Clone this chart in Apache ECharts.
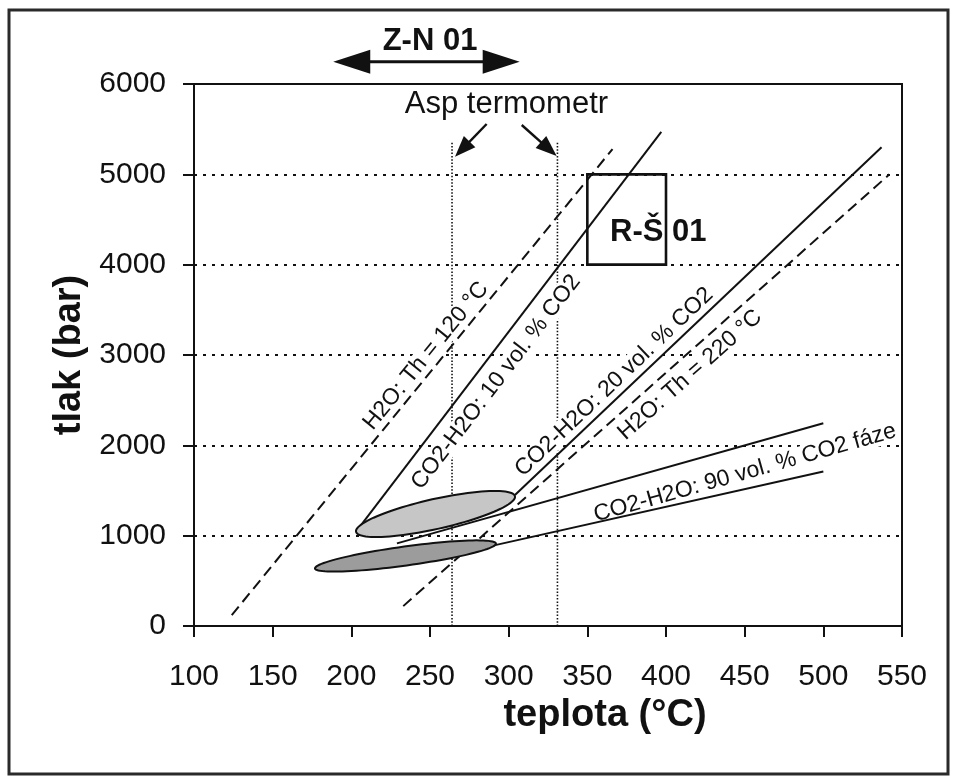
<!DOCTYPE html>
<html><head><meta charset="utf-8">
<script src="https://cdn.jsdelivr.net/npm/echarts@6/dist/echarts.min.js"></script>
<style>html,body{margin:0;padding:0;background:#fff}#c{width:957px;height:782px}</style>
</head><body><div id="c"></div>
<script>
// ---- axis ranges / ticks ----
const tempTicks = [100,150,200,250,300,350,400,450,500,550];
const pressTicks = [0,1000,2000,3000,4000,5000,6000];

// ---- isochores (T °C, P bar) ----
const h2oTh120 = [[124,120],[366,5280]];
const co2h2o10 = [[203,1044],[397,5470]];
const co2h2o20 = [[304,1450],[537,5300]];
const h2oTh220 = [[233,220],[542,5000]];
const co2h2o90upper = [[229,915],[500,2245]];
const co2h2o90lower = [[290,890],[500,1710]];

// ---- Asp thermometer temperatures ----
const aspTemps = [264, 331];
const aspTopP = 5350;

// ---- fluid inclusion fields: major-axis ends (T, P) ----
const fieldUpperAxis = [[203,1043],[304,1437]];
const fieldLowerAxis = [[176.9,637],[291.9,913]];

// ---- R-Š 01 box and Z-N 01 range ----
const rs01Box = [[350,4000],[400,5000]];
const zn01Range = [188.5, 307];
const zn01P = 6247;

// ---- annotation arrows for Asp termometr ----
const aspArrows = [[[286,5557],[265.9,5195]], [[308.3,5546],[330.5,5203]]];

// ---- text labels ----
const lineLabelText = ['H2O: Th = 120 °C','CO2-H2O: 10 vol. % CO2','CO2-H2O: 20 vol. % CO2','H2O: Th = 220 °C','CO2-H2O: 90 vol. % CO2 fáze'];
const lineLabelPos = [[247.4,2990],[292,2701],[367,2701],[415.3,2779],[450.2,1694]];
const lineLabelRef = [h2oTh120, co2h2o10, co2h2o20, h2oTh220, co2h2o90upper];
const freeLabelText = ['Asp termometr','Z-N 01','R-Š 01'];
const freeLabelPos = [[298.6,5779],[250,6470],[364.4,4362]];
const freeLabelWeight = ['normal','bold','bold'];
const freeLabelAlign = ['center','center','left'];

const FONT = '"Liberation Sans", Arial, sans-serif';
const INK = '#111';

function lineSeries(data, dashed){
  return {type:'line', data:data, symbol:'none', silent:true, z:3,
    lineStyle:{color:INK, width:2, type: dashed ? [11,6] : 'solid'}};
}

function arrowHead(tip, from, len, half){
  const dx = tip[0]-from[0], dy = tip[1]-from[1];
  const d = Math.hypot(dx,dy), ux = dx/d, uy = dy/d;
  const bx = tip[0]-ux*len, by = tip[1]-uy*len;
  return [[tip[0],tip[1]],[bx-uy*half, by+ux*half],[bx+uy*half, by-ux*half]];
}

const chart = echarts.init(document.getElementById('c'));
const series = [
  lineSeries(h2oTh120, true),
  lineSeries(co2h2o10, false),
  lineSeries(co2h2o20, false),
  lineSeries(h2oTh220, true),
  lineSeries(co2h2o90upper, false),
  lineSeries(co2h2o90lower, false)
];
aspTemps.forEach(t => series.push({type:'line', data:[[t,0],[t,aspTopP]], symbol:'none', silent:true, z:2,
  lineStyle:{color:INK, width:1.6, type:[1.5,1.8]}}));

// fields as rotated ellipses (minor half-axis in px)
[[fieldUpperAxis,'#c6c6c6',15],[fieldLowerAxis,'#9c9c9c',9.5]].forEach(([ax,col,minor]) => {
  series.push({type:'custom', data:ax, silent:true, z:5,
    renderItem:(params, api) => {
      if (params.dataIndex !== 0) return null;
      const a = api.coord(ax[0]), b = api.coord(ax[1]);
      const cx = (a[0]+b[0])/2, cy = (a[1]+b[1])/2;
      const rx = Math.hypot(b[0]-a[0], b[1]-a[1])/2;
      const th = Math.atan2(b[1]-a[1], b[0]-a[0]);
      const pts = [];
      for (let i=0;i<96;i++){
        const t = i/96*Math.PI*2;
        const ex = rx*Math.cos(t), ey = minor*Math.sin(t);
        pts.push([cx + ex*Math.cos(th) - ey*Math.sin(th), cy + ex*Math.sin(th) + ey*Math.cos(th)]);
      }
      return {type:'polygon', shape:{points:pts}, style:{fill:col, stroke:INK, lineWidth:2}};
    }});
});

// R-Š box
series.push({type:'custom', data:rs01Box, silent:true, z:4,
  renderItem:(params, api) => {
    if (params.dataIndex !== 0) return null;
    const a = api.coord(rs01Box[0]), b = api.coord(rs01Box[1]);
    return {type:'rect', shape:{x:Math.min(a[0],b[0]), y:Math.min(a[1],b[1]), width:Math.abs(b[0]-a[0]), height:Math.abs(b[1]-a[1])},
      style:{fill:'transparent', stroke:INK, lineWidth:2.6}};
  }});

// arrows
series.push({type:'custom', data:[[zn01Range[0], zn01P],[zn01Range[1], zn01P]], silent:true, z:6, clip:false,
  renderItem:(params, api) => {
    if (params.dataIndex !== 0) return null;
    const a = api.coord([zn01Range[0], zn01P]), b = api.coord([zn01Range[1], zn01P]);
    const children = [
      {type:'line', shape:{x1:a[0]+20, y1:a[1], x2:b[0]-20, y2:b[1]}, style:{stroke:INK, lineWidth:3}},
      {type:'polygon', shape:{points:arrowHead(a,b,37,12)}, style:{fill:INK}},
      {type:'polygon', shape:{points:arrowHead(b,a,37,12)}, style:{fill:INK}}
    ];
    aspArrows.forEach(ar => {
      const s = api.coord(ar[0]), t = api.coord(ar[1]);
      const dx=t[0]-s[0], dy=t[1]-s[1], d=Math.hypot(dx,dy);
      children.push({type:'line', shape:{x1:s[0], y1:s[1], x2:t[0]-dx/d*12, y2:t[1]-dy/d*12}, style:{stroke:INK, lineWidth:2.4}});
      children.push({type:'polygon', shape:{points:arrowHead(t,s,21,8)}, style:{fill:INK}});
    });
    return {type:'group', children:children};
  }});

// line labels (white box hides grid/dotted lines behind, isochores drawn above)
series.push({type:'custom', data:lineLabelPos, silent:true, z:2.5, clip:false,
  renderItem:(params, api) => {
    const i = params.dataIndex;
    const p = api.coord(lineLabelPos[i]);
    const ref = lineLabelRef[i];
    const a = api.coord(ref[0]), b = api.coord(ref[1]);
    const ang = Math.atan2(-(b[1]-a[1]), b[0]-a[0]);
    return {type:'text', x:p[0], y:p[1], rotation:ang,
      style:{text:lineLabelText[i], font:'23px ' + FONT, fill:INK, align:'center', verticalAlign:'middle',
        backgroundColor:'#fff', padding:[0,2], lineHeight:22}};
  }});

// free labels
series.push({type:'custom', data:freeLabelPos, silent:true, z:7, clip:false,
  renderItem:(params, api) => {
    const i = params.dataIndex;
    const p = api.coord(freeLabelPos[i]);
    return {type:'text', x:p[0], y:p[1],
      style:{text:freeLabelText[i], font:freeLabelWeight[i] + ' 31px ' + FONT, fill:INK, align:freeLabelAlign[i], verticalAlign:'middle'}};
  }});

chart.setOption({
  animation:false,
  backgroundColor:'#fff',
  graphic:[{type:'rect', shape:{x:9, y:10, width:939, height:764}, style:{fill:'transparent', stroke:'#2a2a2a', lineWidth:3}, z:-1}],
  grid:{left:194, right:55, top:84, bottom:156, show:true, borderColor:INK, borderWidth:2, backgroundColor:'transparent'},
  xAxis:{type:'value', min:tempTicks[0], max:tempTicks[tempTicks.length-1], interval:50,
    name:'teplota (°C)', nameLocation:'middle', nameGap:67,
    nameTextStyle:{fontFamily:FONT, fontSize:38, fontWeight:'bold', color:INK, padding:[0,0,0,114]},
    axisLine:{show:true, lineStyle:{color:INK, width:2}},
    axisTick:{show:true, inside:false, length:11, lineStyle:{color:INK, width:2}},
    axisLabel:{fontFamily:FONT, fontSize:30, color:INK, margin:36, formatter: v => String(v)},
    splitLine:{show:false}},
  yAxis:{type:'value', min:pressTicks[0], max:pressTicks[pressTicks.length-1], interval:1000,
    name:'tlak (bar)', nameLocation:'middle', nameGap:97,
    nameTextStyle:{fontFamily:FONT, fontSize:38, fontWeight:'bold', color:INK},
    axisLine:{show:true, lineStyle:{color:INK, width:2}},
    axisTick:{show:true, inside:false, length:11, lineStyle:{color:INK, width:2}},
    axisLabel:{fontFamily:FONT, fontSize:30, color:INK, margin:28, formatter: v => String(v)},
    splitLine:{show:true, lineStyle:{color:INK, width:2, type:[3,6]}}},
  series:series
});
</script></body></html>
